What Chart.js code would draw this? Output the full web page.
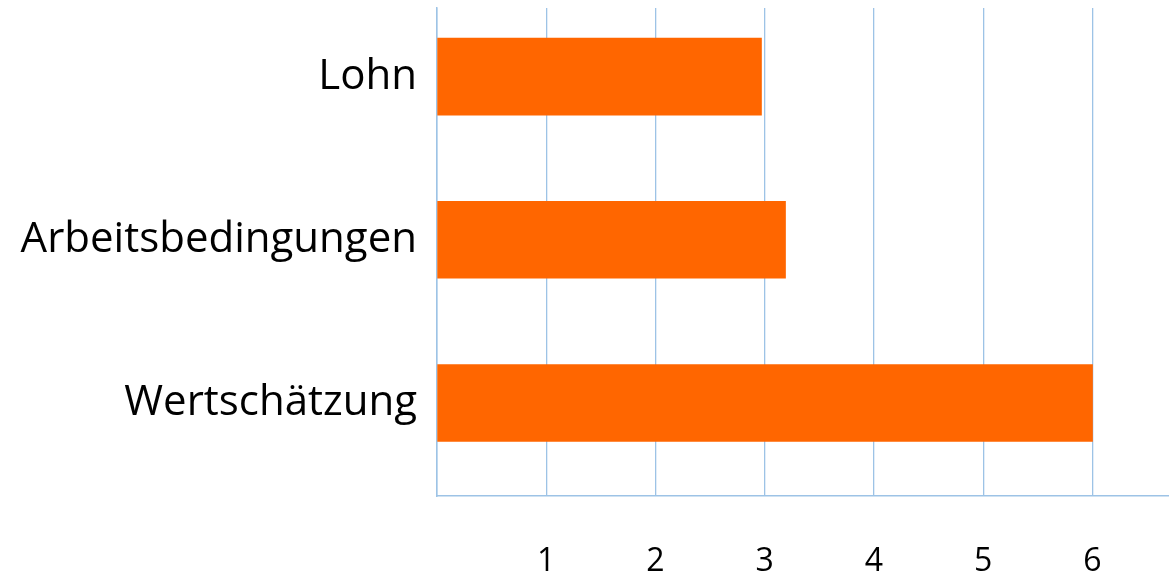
<!DOCTYPE html>
<html>
<head>
<meta charset="utf-8">
<script src="https://cdn.jsdelivr.net/npm/chart.js@4/dist/chart.umd.min.js"></script>
<style>
  html, body { margin: 0; padding: 0; background: #fff; }
  #wrap { width: 1169px; height: 577px; }
</style>
</head>
<body>
<div id="wrap"><canvas id="factorChart" width="1169" height="577"></canvas></div>
<script>
const categories = ['Lohn', 'Arbeitsbedingungen', 'Wertschätzung'];
const scores = [2.97, 3.19, 6.0];
const xTicks = [1, 2, 3, 4, 5, 6];

const gridBlue = '#9dc3e6';
const barOrange = '#ff6600';
const fontFamily = '"Open Sans", "Noto Sans", sans-serif';

new Chart(document.getElementById('factorChart'), {
    type: 'bar',
    data: {
        datasets: [{
            data: categories.map((c, i) => ({ x: scores[i], y: i })),
            backgroundColor: barOrange,
            borderWidth: 0,
            barThickness: 77
        }]
    },
    options: {
        indexAxis: 'y',
        responsive: false,
        animation: false,
        layout: { padding: { top: 8, right: 0, left: 0, bottom: 0 } },
        plugins: {
            legend: { display: false },
            tooltip: { enabled: false }
        },
        scales: {
            x: {
                type: 'linear',
                min: 0,
                max: 6.7,
                afterBuildTicks: (scale) => {
                    scale.ticks = [0].concat(xTicks).map(v => ({ value: v }));
                },
                afterFit: (scale) => {
                    scale.height = 81;
                },
                grid: { color: gridBlue, lineWidth: 1.3, drawTicks: false },
                border: { display: true, color: gridBlue, width: 1.5 },
                ticks: {
                    padding: 47,
                    color: '#000',
                    font: { family: fontFamily, size: 32 },
                    callback: (v) => v === 0 ? '' : v
                }
            },
            y: {
                type: 'linear',
                reverse: true,
                offset: false,
                min: -0.42,
                max: 2.57,
                afterBuildTicks: (scale) => {
                    scale.ticks = categories.map((c, i) => ({ value: i }));
                },
                afterFit: (scale) => {
                    // fixed label column, no extra edge padding for the labels
                    scale.width = 437;
                    scale.paddingTop = 0;
                    scale.paddingBottom = 0;
                },
                grid: { display: false },
                border: { display: true, color: gridBlue, width: 1.5 },
                ticks: {
                    padding: 12,
                    color: '#000',
                    font: { family: fontFamily, size: 42 },
                    callback: (v) => categories[v]
                }
            }
        }
    }
});
</script>
</body>
</html>
